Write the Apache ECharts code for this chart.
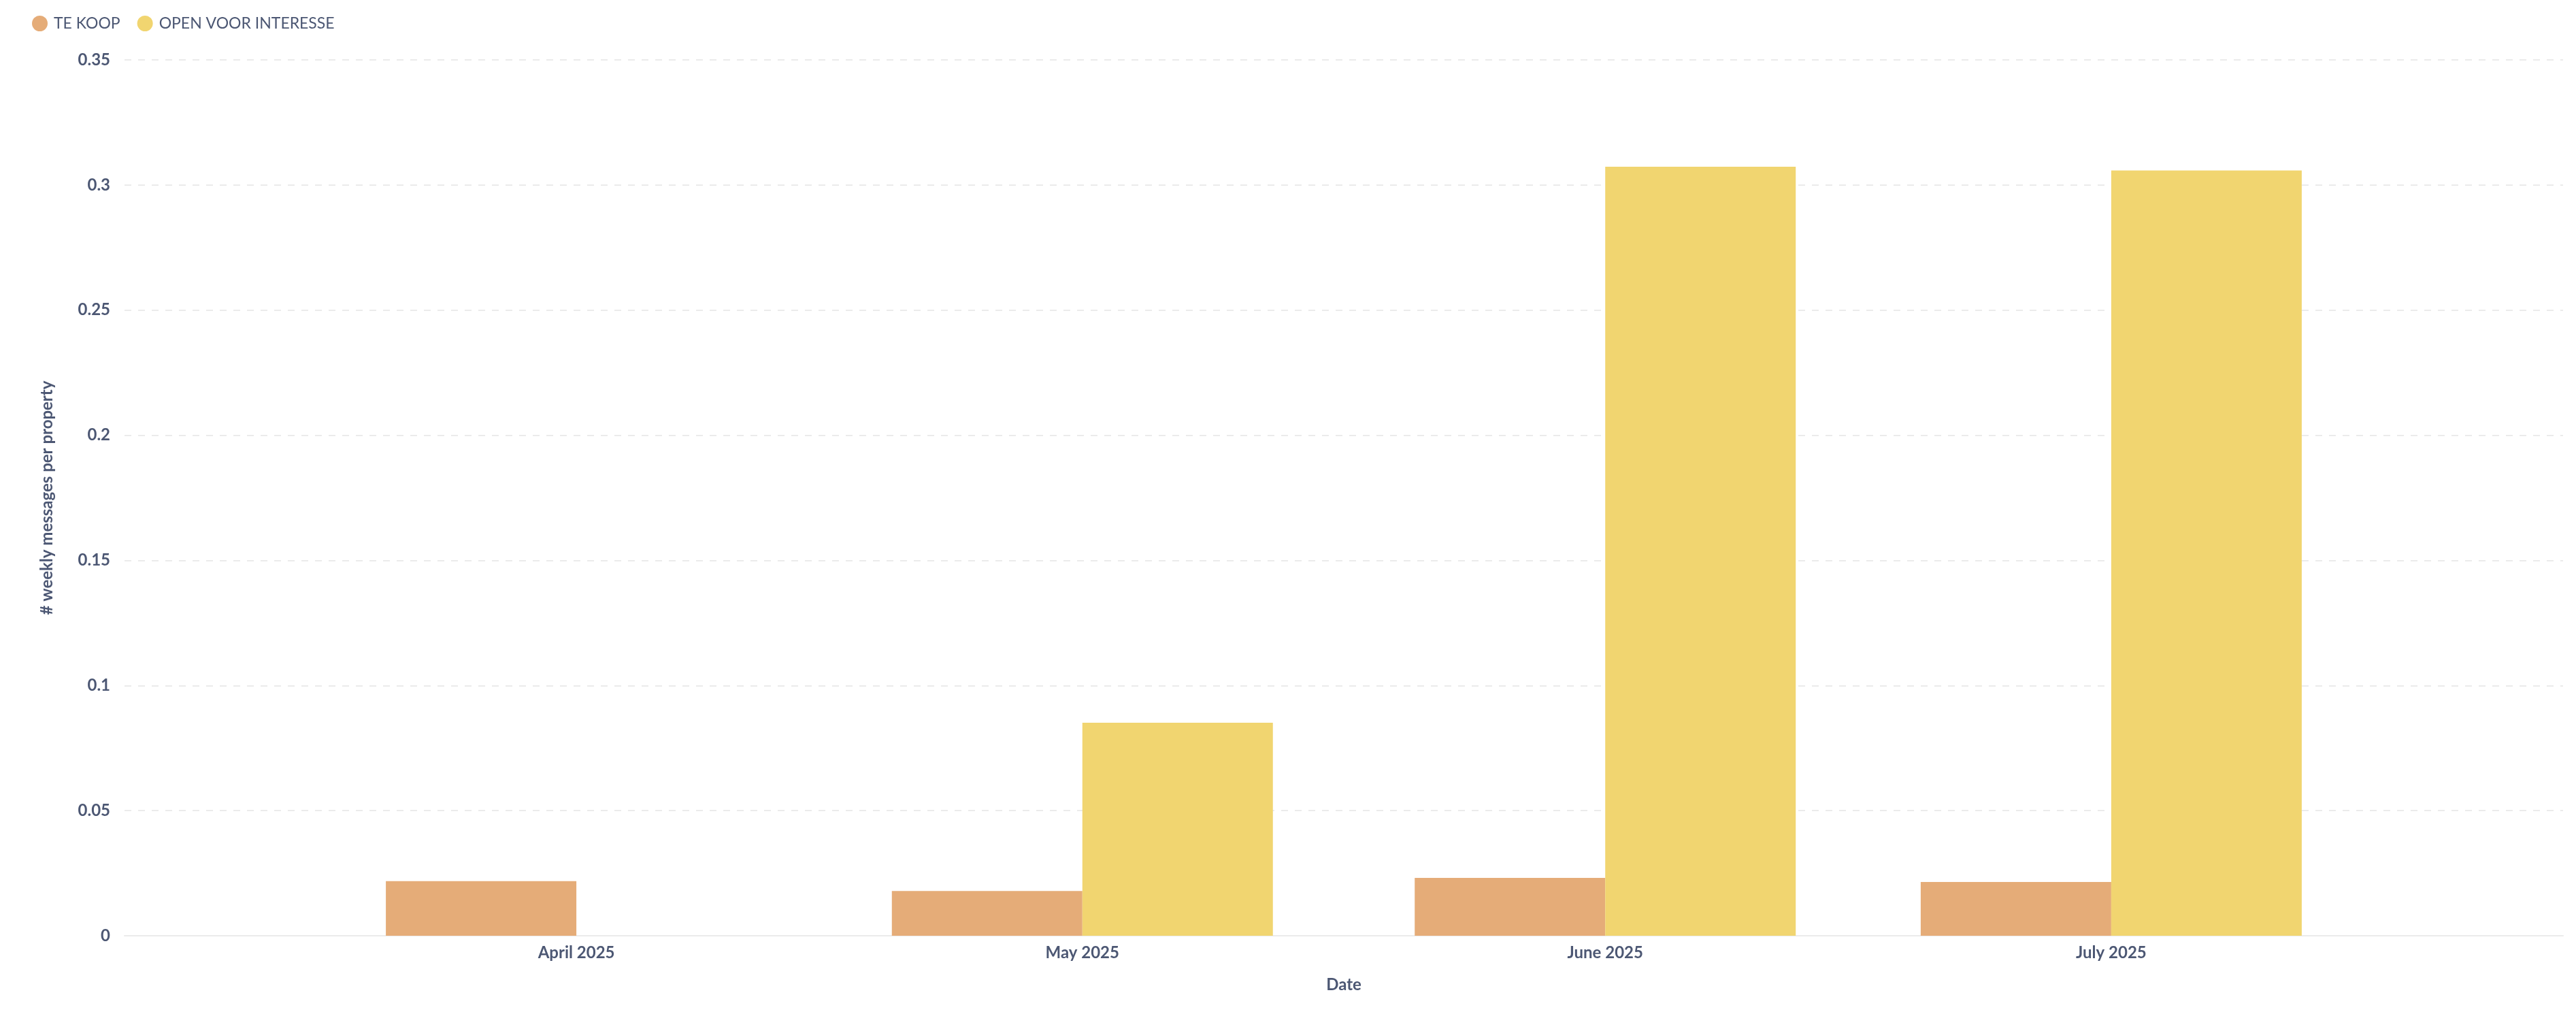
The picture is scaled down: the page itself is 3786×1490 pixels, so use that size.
<!DOCTYPE html>
<html>
<head>
<meta charset="utf-8">
<script src="https://cdn.jsdelivr.net/npm/echarts@6/dist/echarts.min.js"></script>
<style>
  html, body { margin: 0; padding: 0; background: #ffffff; }
  #chart { width: 3786px; height: 1490px; }
</style>
</head>
<body>
<div id="chart"></div>
<script>
// ---- Data ----
const months = ["2025-04-01", "2025-05-01", "2025-06-01", "2025-07-01"];
const tickLabels = ["April 2025", "May 2025", "June 2025", "July 2025"];
const seriesNames = ["TE KOOP", "OPEN VOOR INTERESSE"];
const teKoop = [0.0218, 0.0179, 0.0231, 0.0215];
const openVoorInteresse = [null, 0.0851, 0.3073, 0.3058];
const yTicks = { min: 0, max: 0.35, interval: 0.05 };
const xAxisTitle = "Date";
const yAxisTitle = "# weekly messages per property";

// ---- Build ----
const DAY = 86400000;
const toTs = s => { const p = s.split("-").map(Number); return Date.UTC(p[0], p[1] - 1, p[2]); };
const monthTs = months.map(toTs);
const padDays = 26.79;
const xMin = monthTs[0] - padDays * DAY;
const xMax = monthTs[monthTs.length - 1] + padDays * DAY;

const textColor = "#4C5773";
const font = "Lato";

function labelFor(v) {
  let best = -1, bestD = Infinity;
  for (let i = 0; i < monthTs.length; i++) {
    const d = Math.abs(monthTs[i] - v);
    if (d < bestD) { bestD = d; best = i; }
  }
  return bestD < 2 * DAY ? tickLabels[best] : "";
}

const chart = echarts.init(document.getElementById("chart"), null, { renderer: "canvas" });
chart.setOption({
  animation: false,
  backgroundColor: "#ffffff",
  textStyle: { fontFamily: font },
  legend: {
    left: 42,
    top: 18,
    icon: "circle",
    itemWidth: 23,
    itemHeight: 23,
    itemGap: 25,
    textStyle: { color: textColor, fontSize: 23, fontFamily: font, padding: [0, 0, 0, 4] },
    data: seriesNames
  },
  grid: { left: 183, right: 19, top: 88, bottom: 115 },
  xAxis: {
    type: "value",
    min: xMin,
    max: xMax,
    scale: true,
    name: xAxisTitle,
    nameLocation: "middle",
    nameGap: 60,
    nameTextStyle: { color: textColor, fontSize: 24, fontWeight: "bold", fontFamily: font },
    axisLine: { show: true, onZero: false, lineStyle: { color: "#EBEBEB", width: 2 } },
    axisTick: { show: false },
    splitLine: { show: false },
    axisLabel: {
      customValues: monthTs,
      color: textColor,
      fontSize: 24,
      fontWeight: "bold",
      fontFamily: font,
      margin: 13,
      hideOverlap: false,
      showMinLabel: true,
      showMaxLabel: true,
      formatter: function (v) { return labelFor(v); }
    }
  },
  yAxis: {
    type: "value",
    min: yTicks.min,
    max: yTicks.max,
    interval: yTicks.interval,
    name: yAxisTitle,
    nameLocation: "middle",
    nameGap: 102,
    nameRotate: 90,
    nameTextStyle: { color: textColor, fontSize: 24, fontWeight: "bold", fontFamily: font },
    axisLine: { show: false },
    axisTick: { show: false },
    axisLabel: { color: textColor, fontSize: 24, fontWeight: "bold", fontFamily: font, margin: 21 },
    splitLine: { show: true, lineStyle: { color: "#EBEBEB", width: 2, type: [10, 10] } }
  },
  series: [
    {
      name: seriesNames[0],
      type: "bar",
      barWidth: 280,
      barGap: 0,
      itemStyle: { color: "#E5AC78" },
      data: monthTs.map((t, i) => [t, teKoop[i]])
    },
    {
      name: seriesNames[1],
      type: "bar",
      barWidth: 280,
      barGap: 0,
      itemStyle: { color: "#F1D570" },
      data: monthTs.map((t, i) => [t, openVoorInteresse[i]])
    }
  ]
});
</script>
</body>
</html>
